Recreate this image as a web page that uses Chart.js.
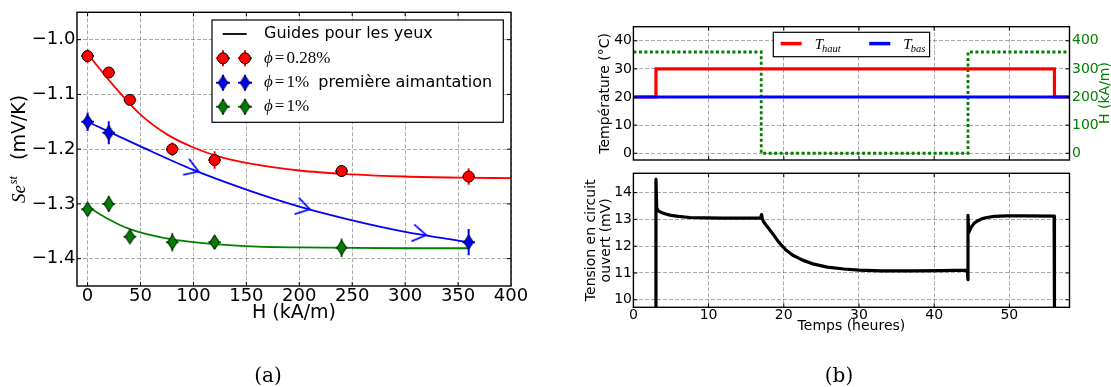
<!DOCTYPE html>
<html><head><meta charset="utf-8">
<script src="https://cdn.jsdelivr.net/npm/chart.js"></script>
<style>
html,body{margin:0;padding:0;background:#fff;width:1111px;height:387px;overflow:hidden;}
canvas{position:absolute;left:0;top:0;}
.cap{position:absolute;font-family:"DejaVu Serif",serif;font-size:20px;color:#000;transform:translate(-50%,-50%);white-space:nowrap;}
</style></head><body>
<canvas id="ca" width="1111" height="387"></canvas>
<canvas id="cb1" width="1111" height="387"></canvas>
<canvas id="cb2" width="1111" height="387"></canvas>
<div class="cap" style="left:268px;top:375px">(a)</div>
<div class="cap" style="left:839px;top:375px">(b)</div>
<script>
// ---------------- Panel (a) data ----------------
const hTicksA = [0, 50, 100, 150, 200, 250, 300, 350, 400];
const seTicksA = [-1.4, -1.3, -1.2, -1.1, -1.0];

const redH = [0, 20, 40, 80, 120, 240, 360];
const redSe = [-1.03, -1.06, -1.11, -1.20, -1.22, -1.24, -1.25];
const redSeErr = [0.012, 0.010, 0.010, 0.012, 0.016, 0.010, 0.015];
const redHErr = [6, 6, 6, 6, 6, 6, 6];

const blueH = [0, 20, 360];
const blueSe = [-1.15, -1.17, -1.37];
const blueSeErr = [0.017, 0.021, 0.024];
const blueHErr = [6, 6, 6];

const greenH = [0, 20, 40, 80, 120, 240];
const greenSe = [-1.31, -1.30, -1.36, -1.37, -1.37, -1.38];
const greenSeErr = [0.012, 0.015, 0.010, 0.017, 0.012, 0.017];
const greenHErr = [6, 6, 6, 6, 6, 6];

const redGuideH = [0, 10, 25, 50, 75, 100, 125, 150, 200, 250, 300, 350, 400];
const redGuideSe = [-1.025, -1.05, -1.085, -1.137, -1.173, -1.197, -1.214, -1.225, -1.239, -1.246, -1.250, -1.252, -1.253];
const blueGuideH = [0, 20, 50, 100, 150, 200, 250, 300, 360];
const blueGuideSe = [-1.15, -1.168, -1.195, -1.238, -1.274, -1.305, -1.330, -1.351, -1.370];
const greenGuideH = [0, 10, 20, 30, 40, 60, 80, 100, 130, 160, 200, 250, 300, 360];
const greenGuideSe = [-1.304, -1.317, -1.328, -1.338, -1.346, -1.357, -1.365, -1.370, -1.375, -1.378, -1.3795, -1.3805, -1.381, -1.381];
const arrowH = [105, 210, 320];
const arrowSe = [-1.241, -1.310, -1.357];

// ---------------- Panel (b) data ----------------
const timeTicks = [0, 10, 20, 30, 40, 50];
const tempTicks = [0, 10, 20, 30, 40];
const hTicksB = [0, 100, 200, 300, 400];
const voltTicks = [10, 11, 12, 13, 14];

const tHautT = [0, 3.0, 3.0, 56.0, 56.0, 58];
const tHautV = [20, 20, 30, 30, 20, 20];
const tBasT = [0, 58];
const tBasV = [20, 20];
const fieldT = [0, 17.0, 17.0, 44.5, 44.5, 58];
const fieldV = [360, 360, 0, 0, 360, 360];

const voltT = [3.0, 3.0, 3.1, 3.3, 3.7, 4.3, 5.0, 6.0, 7.5, 9.5, 12.0, 15.0, 16.9, 17.05, 17.15, 17.3, 17.6, 18.0, 18.6, 19.3, 20.2, 21.2, 22.5, 24.0, 25.8, 28.0, 30.0, 33.0, 37.0, 41.0, 44.4, 44.5, 44.5, 44.6, 44.9, 45.3, 45.7, 46.3, 47.0, 48.0, 49.6, 52.0, 55.95, 56.0];
const voltV = [9.5, 14.5, 13.42, 13.32, 13.26, 13.2, 13.15, 13.11, 13.07, 13.06, 13.05, 13.05, 13.05, 13.18, 13.02, 12.92, 12.8, 12.66, 12.44, 12.16, 11.88, 11.66, 11.48, 11.33, 11.22, 11.15, 11.11, 11.08, 11.08, 11.09, 11.11, 10.75, 13.15, 12.5, 12.7, 12.85, 12.93, 13.02, 13.07, 13.11, 13.13, 13.13, 13.12, 9.5];

// ---------------- helpers ----------------
Chart.defaults.font.family = '"DejaVu Sans", sans-serif';
Chart.defaults.color = '#000';
Chart.defaults.animation = false;

const RED = '#ff0000', BLUE = '#0000ff', GREEN = '#008000';
const GRID = 'rgba(0,0,0,0.33)';
const tickSet = arr => s => { s.ticks = arr.map(v => ({ value: v })); };
const pts = (xs, ys) => xs.map((x, i) => ({ x: x, y: ys[i] }));
function errSegs(xs, ys, xe, ye) {
  const d = [];
  xs.forEach((x, i) => {
    d.push({ x: x, y: ys[i] - ye[i] }, { x: x, y: ys[i] + ye[i] }, { x: x, y: null },
           { x: x - xe[i], y: ys[i] }, { x: x + xe[i], y: ys[i] }, { x: x, y: null });
  });
  return d;
}
function diamondCanvas(fill) {
  const w = 11, h = 16, c = document.createElement('canvas');
  c.width = w; c.height = h;
  const g = c.getContext('2d');
  g.beginPath(); g.moveTo(w / 2, 0.7); g.lineTo(w - 0.7, h / 2); g.lineTo(w / 2, h - 0.7); g.lineTo(0.7, h / 2); g.closePath();
  g.fillStyle = fill; g.fill(); g.lineWidth = 1; g.strokeStyle = '#000'; g.stroke();
  return c;
}
function chevronCanvas(color) {
  const c = document.createElement('canvas'); c.width = 40; c.height = 28;
  const g = c.getContext('2d');
  const a = 32 * Math.PI / 180, L = 16;
  g.strokeStyle = color; g.lineWidth = 1.6;
  g.beginPath();
  g.moveTo(20 - L * Math.cos(a), 14 - L * Math.sin(a)); g.lineTo(20, 14); g.lineTo(20 - L * Math.cos(a), 14 + L * Math.sin(a));
  g.stroke();
  return c;
}
const blueDiamond = diamondCanvas(BLUE), greenDiamond = diamondCanvas(GREEN), blueChevron = chevronCanvas(BLUE);

const framePlugin = {
  id: 'frame',
  afterDatasetsDraw(chart) {
    const { ctx, chartArea: a } = chart;
    ctx.save();
    ctx.strokeStyle = '#000'; ctx.lineWidth = 1;
    const L = 4;
    ctx.beginPath();
    const sx = chart.scales.x, sy = chart.scales.y, sy2 = chart.scales.y2;
    sx.ticks.forEach(t => { const p = sx.getPixelForValue(t.value); if (p > a.left + 1 && p < a.right - 1) { ctx.moveTo(p, a.bottom); ctx.lineTo(p, a.bottom - L); ctx.moveTo(p, a.top); ctx.lineTo(p, a.top + L); } });
    sy.ticks.forEach(t => { const p = sy.getPixelForValue(t.value); if (p > a.top + 1 && p < a.bottom - 1) { ctx.moveTo(a.left, p); ctx.lineTo(a.left + L, p); if (!sy2) { ctx.moveTo(a.right, p); ctx.lineTo(a.right - L, p); } } });
    if (sy2) sy2.ticks.forEach(t => { const p = sy2.getPixelForValue(t.value); if (p > a.top + 1 && p < a.bottom - 1) { ctx.moveTo(a.right, p); ctx.lineTo(a.right - L, p); } });
    ctx.stroke();
    ctx.lineWidth = 1.4;
    ctx.strokeRect(a.left, a.top, a.right - a.left, a.bottom - a.top);
    ctx.restore();
  }
};

function drawPhiLabel(ctx, x, y, rest) {
  ctx.textBaseline = 'middle'; ctx.textAlign = 'left'; ctx.fillStyle = '#000';
  ctx.font = 'italic 17px "Liberation Serif", "DejaVu Serif", serif';
  ctx.fillText('\u03D5', x, y); x += ctx.measureText('\u03D5').width + 2;
  ctx.font = '17px "Liberation Serif", "DejaVu Serif", serif';
  ctx.fillText('=', x, y); x += ctx.measureText('=').width + 2;
  ctx.fillText(rest, x, y); x += ctx.measureText(rest).width;
  return x;
}
function legendMarker(ctx, x, y, kind, color) {
  ctx.strokeStyle = color; ctx.lineWidth = 2;
  ctx.beginPath(); ctx.moveTo(x - 7, y); ctx.lineTo(x + 7, y); ctx.moveTo(x, y - 8); ctx.lineTo(x, y + 8); ctx.stroke();
  if (kind === 'circle') {
    ctx.beginPath(); ctx.arc(x, y, 5.5, 0, 2 * Math.PI); ctx.fillStyle = color; ctx.fill();
    ctx.lineWidth = 1; ctx.strokeStyle = '#000'; ctx.stroke();
  } else {
    ctx.drawImage(kind, x - kind.width / 2, y - kind.height / 2);
  }
}

const decorA = {
  id: 'decorA',
  afterDraw(chart) {
    const ctx = chart.ctx;
    ctx.save();
    // y-axis title: Se^st  (mV/K)
    ctx.translate(0, 203); ctx.rotate(-Math.PI / 2);
    ctx.fillStyle = '#000'; ctx.textBaseline = 'alphabetic'; ctx.textAlign = 'left';
    ctx.font = 'italic 19px "Liberation Serif", "DejaVu Serif", serif';
    ctx.fillText('Se', 0, 25); let u = ctx.measureText('Se').width;
    ctx.font = 'italic 13px "Liberation Serif", "DejaVu Serif", serif';
    ctx.fillText('st', u + 0.5, 17);
    ctx.font = '19px "DejaVu Sans", sans-serif';
    ctx.fillText('(mV/K)', 43, 25);
    ctx.restore();

    // legend
    ctx.save();
    ctx.fillStyle = '#fff'; ctx.fillRect(212, 20, 291.3, 102.3);
    ctx.strokeStyle = '#000'; ctx.lineWidth = 1.2; ctx.strokeRect(212, 20, 291.3, 102.3);
    const rows = [34, 58.3, 82.7, 106.7];
    const mx = [223, 245];
    ctx.strokeStyle = '#000'; ctx.lineWidth = 1.8;
    ctx.beginPath(); ctx.moveTo(222.7, rows[0]); ctx.lineTo(246.7, rows[0]); ctx.stroke();
    ctx.fillStyle = '#000'; ctx.font = '16px "DejaVu Sans", sans-serif'; ctx.textBaseline = 'middle';
    ctx.fillText('Guides pour les yeux', 264, rows[0]);
    mx.forEach(x => legendMarker(ctx, x, rows[1], 'circle', RED));
    mx.forEach(x => legendMarker(ctx, x, rows[2], blueDiamond, BLUE));
    mx.forEach(x => legendMarker(ctx, x, rows[3], greenDiamond, GREEN));
    drawPhiLabel(ctx, 264, rows[1], '0.28%');
    drawPhiLabel(ctx, 264, rows[2], '1%');
    ctx.font = '16px "DejaVu Sans", sans-serif';
    ctx.fillText('premi\u00e8re aimantation', 318.3, rows[2]);
    drawPhiLabel(ctx, 264, rows[3], '1%');
    ctx.restore();
  }
};

function arrowRotation(c) {
  const ch = c.chart, xs = ch.scales.x, ys = ch.scales.y;
  const h = arrowH[c.dataIndex];
  let k = blueGuideH.findIndex(v => v > h); if (k < 1) k = 1;
  const dx = xs.getPixelForValue(blueGuideH[k]) - xs.getPixelForValue(blueGuideH[k - 1]);
  const dy = ys.getPixelForValue(blueGuideSe[k]) - ys.getPixelForValue(blueGuideSe[k - 1]);
  const r = Math.atan2(dy, dx) * 180 / Math.PI;
  return isFinite(r) ? r : 15;
}

// ---------------- Chart (a) ----------------
new Chart(document.getElementById('ca'), {
  type: 'line',
  data: {
    datasets: [
      { label: 'arrows', data: pts(arrowH, arrowSe), showLine: false, pointStyle: blueChevron, pointRotation: arrowRotation, pointRadius: 8 },
      { label: 'phi=0.28%', data: pts(redH, redSe), showLine: false, pointStyle: 'circle', pointRadius: 5.5, pointBackgroundColor: RED, pointBorderColor: '#000', pointBorderWidth: 1 },
      { label: 'phi=1% premiere aimantation', data: pts(blueH, blueSe), showLine: false, pointStyle: blueDiamond, pointRadius: 8 },
      { label: 'phi=1%', data: pts(greenH, greenSe), showLine: false, pointStyle: greenDiamond, pointRadius: 8 },
      { label: 'err red', data: errSegs(redH, redSe, redHErr, redSeErr), borderColor: RED, borderWidth: 2, pointRadius: 0, tension: 0, spanGaps: false },
      { label: 'err blue', data: errSegs(blueH, blueSe, blueHErr, blueSeErr), borderColor: BLUE, borderWidth: 2, pointRadius: 0, tension: 0, spanGaps: false },
      { label: 'err green', data: errSegs(greenH, greenSe, greenHErr, greenSeErr), borderColor: GREEN, borderWidth: 2, pointRadius: 0, tension: 0, spanGaps: false },
      { label: 'guide red', data: pts(redGuideH, redGuideSe), borderColor: RED, borderWidth: 1.8, pointRadius: 0, cubicInterpolationMode: 'monotone' },
      { label: 'guide blue', data: pts(blueGuideH, blueGuideSe), borderColor: BLUE, borderWidth: 1.8, pointRadius: 0, cubicInterpolationMode: 'monotone' },
      { label: 'guide green', data: pts(greenGuideH, greenGuideSe), borderColor: GREEN, borderWidth: 1.8, pointRadius: 0, cubicInterpolationMode: 'monotone' }
    ]
  },
  options: {
    responsive: false, devicePixelRatio: 1, events: [],
    layout: { padding: { left: 0, top: 12.3, right: 600, bottom: 0 } },
    plugins: { legend: { display: false }, tooltip: { enabled: false } },
    scales: {
      x: {
        type: 'linear', min: -10, max: 400,
        afterBuildTicks: tickSet(hTicksA),
        afterFit: s => { s.height = 387 - 286; },
        ticks: { font: { size: 18 }, color: '#000', padding: 0, maxRotation: 0 },
        grid: { color: GRID, drawTicks: false },
        border: { display: false, dash: [4, 2] },
        title: { display: true, text: 'H (kA/m)', font: { size: 19 }, color: '#000', padding: { top: 0, bottom: 62.6 } }
      },
      y: {
        type: 'linear', min: -1.45, max: -0.95,
        afterBuildTicks: tickSet(seTicksA),
        afterFit: s => { s.width = 77; },
        ticks: { font: { size: 18 }, color: '#000', padding: 1.5, callback: v => v.toFixed(1).replace('-', '\u2212') },
        grid: { color: GRID, drawTicks: false },
        border: { display: false, dash: [4, 2] }
      }
    }
  },
  plugins: [framePlugin, decorA]
});

// ---------------- Chart (b) top ----------------
const decorB1 = {
  id: 'decorB1',
  afterDraw(chart) {
    const ctx = chart.ctx;
    ctx.save();
    ctx.translate(1105, 93); ctx.rotate(-Math.PI / 2);
    ctx.fillStyle = GREEN; ctx.font = '14px "DejaVu Sans", sans-serif';
    ctx.textAlign = 'center'; ctx.textBaseline = 'middle';
    ctx.fillText('H (kA/m)', 0, 0);
    ctx.restore();
    ctx.save();
    ctx.fillStyle = '#fff'; ctx.fillRect(773.3, 32.3, 156.3, 24.4);
    ctx.strokeStyle = '#000'; ctx.lineWidth = 1.2; ctx.strokeRect(773.3, 32.3, 156.3, 24.4);
    const y = 43.6;
    ctx.lineWidth = 3.5;
    ctx.strokeStyle = RED; ctx.beginPath(); ctx.moveTo(780.7, y); ctx.lineTo(801.7, y); ctx.stroke();
    ctx.strokeStyle = BLUE; ctx.beginPath(); ctx.moveTo(869.2, y); ctx.lineTo(890.3, y); ctx.stroke();
    ctx.fillStyle = '#000'; ctx.textBaseline = 'alphabetic'; ctx.textAlign = 'left';
    const sub = (x, s) => {
      ctx.font = 'italic 15px "Liberation Serif", "DejaVu Serif", serif';
      ctx.fillText('T', x, y + 5); const w = ctx.measureText('T').width;
      ctx.font = 'italic 10.5px "Liberation Serif", "DejaVu Serif", serif';
      ctx.fillText(s, x + w - 1, y + 8);
    };
    sub(814.7, 'haut');
    sub(903.3, 'bas');
    ctx.restore();
  }
};

new Chart(document.getElementById('cb1'), {
  type: 'line',
  data: {
    datasets: [
      { label: 'T_bas', data: pts(tBasT, tBasV), borderColor: BLUE, borderWidth: 3.2, pointRadius: 0, tension: 0, yAxisID: 'y' },
      { label: 'T_haut', data: pts(tHautT, tHautV), borderColor: RED, borderWidth: 3.2, pointRadius: 0, tension: 0, yAxisID: 'y' },
      { label: 'H', data: pts(fieldT, fieldV), borderColor: GREEN, borderWidth: 2.8, borderDash: [3, 2.5], pointRadius: 0, tension: 0, yAxisID: 'y2' }
    ]
  },
  options: {
    responsive: false, devicePixelRatio: 1, events: [],
    layout: { padding: { left: 0, top: 26.7, right: 0, bottom: 0 } },
    plugins: { legend: { display: false }, tooltip: { enabled: false } },
    scales: {
      x: {
        type: 'linear', min: 0, max: 58,
        afterBuildTicks: tickSet(timeTicks),
        afterFit: s => { s.height = 387 - 160; },
        ticks: { display: false },
        grid: { color: GRID, drawTicks: false },
        border: { display: false, dash: [4, 2] }
      },
      y: {
        type: 'linear', position: 'left', min: -2.4, max: 45,
        afterBuildTicks: tickSet(tempTicks),
        afterFit: s => { s.width = 633.4; },
        ticks: { font: { size: 14 }, color: '#000', padding: 1.4 },
        grid: { color: GRID, drawTicks: false },
        border: { display: false, dash: [4, 2] },
        title: { display: true, text: 'Temp\u00e9rature (\u00b0C)', font: { size: 14 }, color: '#000', padding: { top: 597.3, bottom: 0 } }
      },
      y2: {
        type: 'linear', position: 'right', min: -24, max: 450,
        afterBuildTicks: tickSet(hTicksB),
        afterFit: s => { s.width = 1111 - 1069.5; },
        ticks: { font: { size: 14 }, color: GREEN, padding: 2.5 },
        grid: { display: false, drawTicks: false },
        border: { display: false }
      }
    }
  },
  plugins: [framePlugin, decorB1]
});

// ---------------- Chart (b) bottom ----------------
new Chart(document.getElementById('cb2'), {
  type: 'line',
  data: {
    datasets: [
      { label: 'Tension', data: pts(voltT, voltV), borderColor: '#000', borderWidth: 3.2, pointRadius: 0, tension: 0, borderJoinStyle: 'round' }
    ]
  },
  options: {
    responsive: false, devicePixelRatio: 1, events: [],
    layout: { padding: { left: 0, top: 173.3, right: 1111 - 1069.5, bottom: 0 } },
    plugins: { legend: { display: false }, tooltip: { enabled: false } },
    scales: {
      x: {
        type: 'linear', min: 0, max: 58,
        afterBuildTicks: tickSet(timeTicks),
        afterFit: s => { s.height = 387 - 307.3; },
        ticks: { font: { size: 14 }, color: '#000', padding: 0, maxRotation: 0 },
        grid: { color: GRID, drawTicks: false },
        border: { display: false, dash: [4, 2] },
        title: { display: true, text: 'Temps (heures)', font: { size: 14 }, color: '#000', padding: { top: 0, bottom: 51.9 } }
      },
      y: {
        type: 'linear', min: 9.72, max: 14.72,
        afterBuildTicks: tickSet(voltTicks),
        afterFit: s => { s.width = 633.4; },
        ticks: { font: { size: 14 }, color: '#000', padding: 1.4 },
        grid: { color: GRID, drawTicks: false },
        border: { display: false, dash: [4, 2] },
        title: { display: true, text: ['Tension en circuit', 'ouvert (mV)'], font: { size: 14, lineHeight: 15 / 14 }, color: '#000', padding: { top: 583.5, bottom: 0 } }
      }
    }
  },
  plugins: [framePlugin]
});
</script>
</body></html>
